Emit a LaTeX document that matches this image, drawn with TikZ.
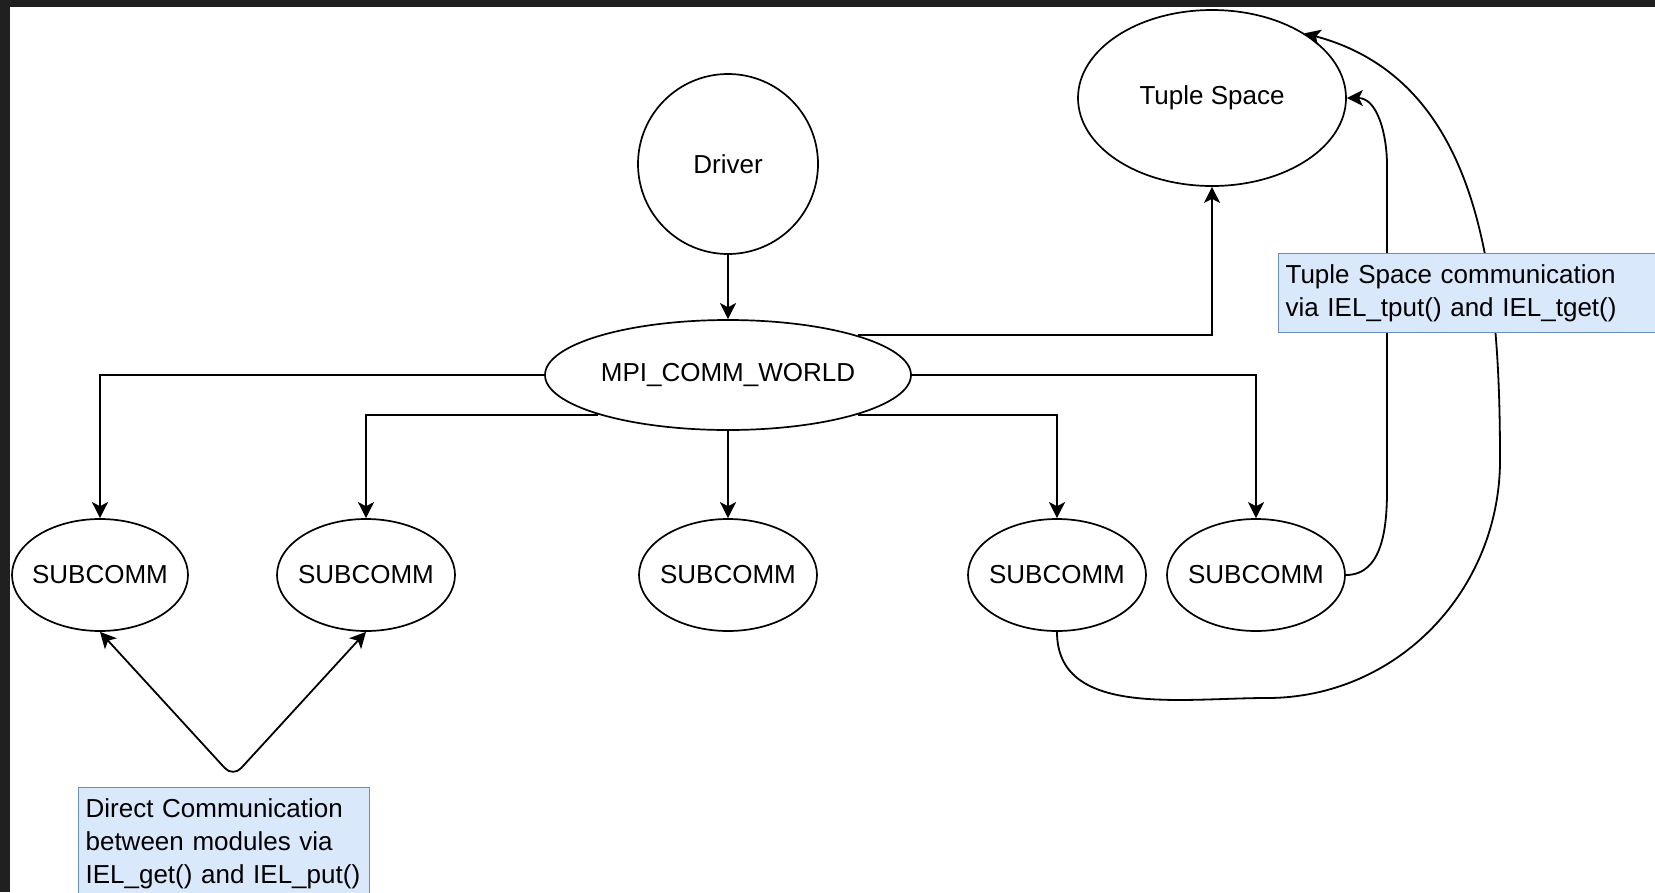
\documentclass[tikz,border=0pt]{standalone}
\usepackage{fontspec}
\setmainfont{Liberation Sans}
\usetikzlibrary{arrows.meta}
\usetikzlibrary{shapes.geometric}
\definecolor{frame}{HTML}{202020}
\definecolor{notefill}{HTML}{DAE8FC}
\definecolor{noteline}{HTML}{6C8EBF}
\tikzset{
  >={Stealth[length=16pt,width=16pt,inset=4pt]},
  comm/.style={draw, ellipse, line width=1.7pt, inner xsep=-25pt, inner ysep=0pt, font=\fontsize{26}{33}\selectfont},
  link/.style={line width=1.8pt, ->},
  note/.style={draw=noteline, fill=notefill, line width=1.2pt, align=left, anchor=north west,
    inner xsep=7pt, inner ysep=11pt, font=\fontsize{26}{33}\selectfont}
}
\begin{document}
\begin{tikzpicture}[x=1pt, y=-1pt]
\useasboundingbox (0,0) rectangle (1655,892);
\clip (0,0) rectangle (1655,892);
\fill [frame] (0,0) rectangle (1655,892);
\fill [white] (10,7) rectangle (1655,892);

% nodes
\node [comm, circle, inner sep=0pt, minimum size=180pt] (driver) at (728,164) {Driver};
\node [comm, minimum width=268pt, minimum height=176pt] (tuplespace) at (1212,98) {Tuple Space};
\node [comm, minimum width=366pt, minimum height=110pt] (world) at (728,375) {MPI\_COMM\_WORLD};
\node [comm, minimum width=176pt, minimum height=112pt] (sub1) at (100,575) {SUBCOMM};
\node [comm, minimum width=178pt, minimum height=112pt] (sub2) at (366,575) {SUBCOMM};
\node [comm, minimum width=178pt, minimum height=112pt] (sub3) at (728,575) {SUBCOMM};
\node [comm, minimum width=178pt, minimum height=112pt] (sub4) at (1057,575) {SUBCOMM};
\node [comm, minimum width=178pt, minimum height=112pt] (sub5) at (1256,575) {SUBCOMM};
\coordinate (fork) at (233,777);

% connectors
\draw [link] (driver.south) -- (world.north);
\draw [link] (world.17) -| (tuplespace.south);
\draw [link] (world.west) -| (sub1.north);
\draw [link] (world.197) -| (sub2.north);
\draw [link] (world.south) -- (sub3.north);
\draw [link] (world.-17) -| (sub4.north);
\draw [link] (world.east) -| (sub5.north);
\draw [link] (sub5.east) to [out=0, in=-90] (1387,490) -- (1387,165) to [out=90, in=0] (tuplespace.east);
\draw [link] (sub4.south) to [out=-90, in=180] (1267,698) to [out=0, in=-90] (1500,460)
  to [out=90, in=-15] (tuplespace.35);
\draw [link, <->, rounded corners=12pt] (sub1.south) -- (fork) -- (sub2.south);

% notes
\node [note, text width=277pt] (dcnote) at (78,787) {Direct Communication\\between modules via\\IEL\_get() and IEL\_put()};
\node [note, text width=400pt] (tsnote) at (1278,253) {Tuple Space communication\\via IEL\_tput() and IEL\_tget()};
\end{tikzpicture}
\end{document}
